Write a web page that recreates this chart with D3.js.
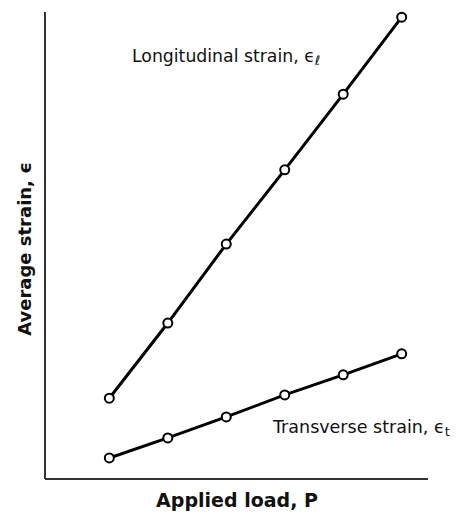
<!DOCTYPE html>
<html>
<head>
<script src="https://d3js.org/d3.v7.min.js"></script>
<style>
  body { margin: 0; background: #fff; }
  svg text { font-family: "DejaVu Sans", Verdana, sans-serif; fill: #111; }
</style>
</head>
<body>
<svg id="chart" width="461" height="514"></svg>
<script>
var loads = [1, 2, 3, 4, 5, 6];
var longitudinal = [17.3, 33.4, 50.3, 66.2, 82.4, 98.9];
var transverse = [4.5, 8.8, 13.3, 18.0, 22.3, 26.8];

var svg = d3.select("#chart");
var x = d3.scaleLinear().domain([-0.1, 6.45]).range([45, 428]);
var y = d3.scaleLinear().domain([0, 100]).range([479, 12]);

// axes (no ticks)
svg.append("line").attr("x1", x(-0.1)).attr("x2", x(-0.1)).attr("y1", y(0)).attr("y2", y(100))
  .attr("stroke", "#333").attr("stroke-width", 2);
svg.append("line").attr("x1", x(-0.1)).attr("x2", x(6.45)).attr("y1", y(0)).attr("y2", y(0))
  .attr("stroke", "#333").attr("stroke-width", 2);

var line = d3.line().x(function(d, i){ return x(loads[i]); }).y(function(d){ return y(d); });

[longitudinal, transverse].forEach(function(series){
  svg.append("path").datum(series).attr("d", line)
    .attr("fill", "none").attr("stroke", "#000").attr("stroke-width", 3);
  svg.selectAll(null).data(series).enter().append("circle")
    .attr("cx", function(d, i){ return x(loads[i]); })
    .attr("cy", function(d){ return y(d); })
    .attr("r", 4.5).attr("fill", "#fff").attr("stroke", "#000").attr("stroke-width", 2);
});

var t1 = svg.append("text").attr("x", 132).attr("y", 62).attr("font-size", 17.3);
t1.append("tspan").text("Longitudinal strain, \u03f5");
t1.append("tspan").attr("font-size", 13).attr("dy", 3).text("\u2113");

var t2 = svg.append("text").attr("x", 273).attr("y", 433).attr("font-size", 17.5);
t2.append("tspan").text("Transverse strain, \u03f5");
t2.append("tspan").attr("font-size", 13).attr("dy", 3).text("t");

svg.append("text").attr("x", 237).attr("y", 507).attr("text-anchor", "middle")
  .attr("font-size", 19).attr("font-weight", "bold").text("Applied load, P");

svg.append("text").attr("transform", "translate(31,249) rotate(-90)").attr("text-anchor", "middle")
  .attr("font-size", 18).attr("font-weight", "bold").text("Average strain, \u03f5");
</script>
</body>
</html>
